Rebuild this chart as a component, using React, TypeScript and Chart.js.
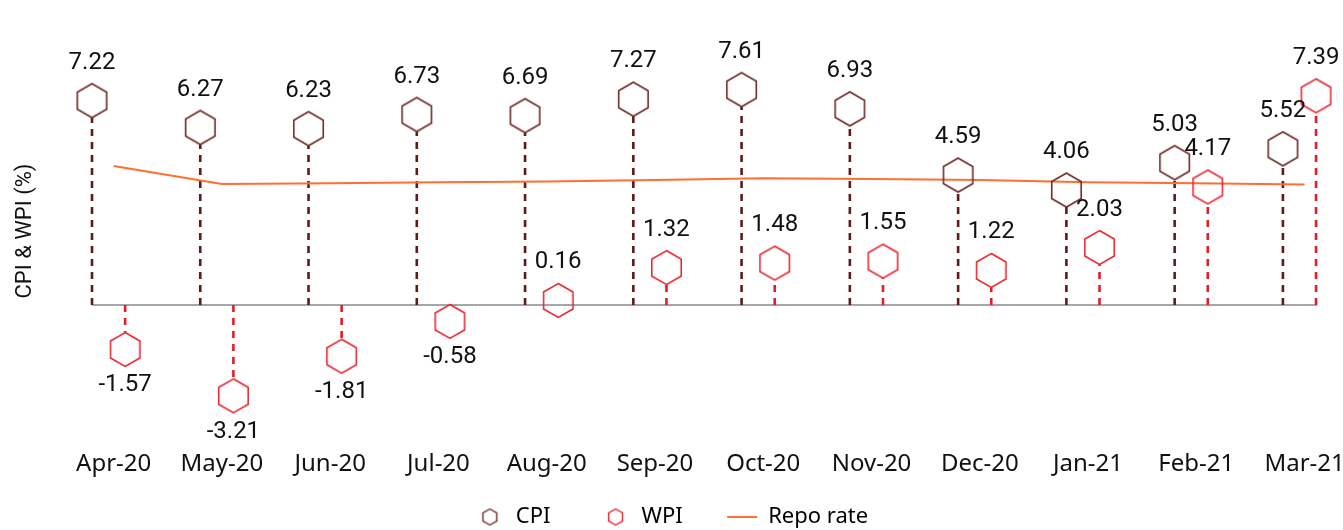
import React, { useEffect, useRef } from "react";
import { Chart, registerables } from "chart.js";

Chart.register(...registerables);

// ---- data ----
const MONTHS = ["Apr-20", "May-20", "Jun-20", "Jul-20", "Aug-20", "Sep-20", "Oct-20", "Nov-20", "Dec-20", "Jan-21", "Feb-21", "Mar-21"];
const CPI = [7.22, 6.27, 6.23, 6.73, 6.69, 7.27, 7.61, 6.93, 4.59, 4.06, 5.03, 5.52];
const WPI = [-1.57, -3.21, -1.81, -0.58, 0.16, 1.32, 1.48, 1.55, 1.22, 2.03, 4.17, 7.39];
const REPO = [4.91, 4.28, 4.3, 4.34, 4.36, 4.42, 4.48, 4.45, 4.42, 4.34, 4.3, 4.26];
const LEGEND_LABELS = ["CPI", "WPI", "Repo rate"];

// ---- styles ----
const CPI_COLOR = "#6e2a25";
const CPI_STEM = "#5e1b1b";
const WPI_COLOR = "#e8202a";
const WPI_STEM = "#e41e27";
const REPO_COLOR = "#ff6f30";
const AXIS_COLOR = "#a6a6a6";
const CPI_SHIFT = -0.2;
const WPI_SHIFT = 0.106;
const X_RIGHT_PAD = 0.249;
const HEX_R = 17;
const STEM_DASH = [7, 6];

function makeHex(r: number, color: string, lw: number): HTMLCanvasElement {
  const c = document.createElement("canvas");
  const w = Math.ceil(Math.sqrt(3) * r + lw * 2 + 2);
  const h = Math.ceil(2 * r + lw * 2 + 2);
  c.width = w;
  c.height = h;
  const g = c.getContext("2d")!;
  g.strokeStyle = color;
  g.lineWidth = lw;
  g.beginPath();
  for (let k = 0; k < 6; k++) {
    const a = -Math.PI / 2 + (k * Math.PI) / 3;
    const px = w / 2 + r * Math.cos(a);
    const py = h / 2 + r * Math.sin(a);
    if (k === 0) g.moveTo(px, py);
    else g.lineTo(px, py);
  }
  g.closePath();
  g.stroke();
  return c;
}

const stemPlugin = {
  id: "stems",
  beforeDatasetsDraw(chart: any) {
    const { ctx, chartArea } = chart;
    const y = chart.scales.y;
    const x = chart.scales.x;
    const y0 = y.getPixelForValue(0);
    // zero baseline, from the first to the last lollipop
    ctx.save();
    ctx.strokeStyle = AXIS_COLOR;
    ctx.lineWidth = 2;
    ctx.beginPath();
    ctx.moveTo(chartArea.left, y0);
    ctx.lineTo(x.getPixelForValue(MONTHS.length - 1 + WPI_SHIFT) + 1, y0);
    ctx.stroke();
    ctx.restore();
    chart.data.datasets.forEach((ds: any, di: number) => {
      if (!ds.stemColor) return;
      const meta = chart.getDatasetMeta(di);
      meta.data.forEach((el: any, i: number) => {
        const v = ds.data[i].y;
        const end = v >= 0 ? el.y + HEX_R : el.y - HEX_R;
        if ((v >= 0 && end >= y0) || (v < 0 && end <= y0)) return;
        ctx.save();
        ctx.beginPath();
        ctx.setLineDash(STEM_DASH);
        ctx.lineWidth = 2.6;
        ctx.strokeStyle = ds.stemColor;
        ctx.moveTo(el.x, y0);
        ctx.lineTo(el.x, end);
        ctx.stroke();
        ctx.restore();
      });
    });
  },
};

const valueLabelPlugin = {
  id: "valueLabels",
  afterDatasetsDraw(chart: any) {
    const { ctx } = chart;
    chart.data.datasets.forEach((ds: any, di: number) => {
      if (!ds.showValues) return;
      const meta = chart.getDatasetMeta(di);
      meta.data.forEach((el: any, i: number) => {
        const v = ds.data[i].y;
        ctx.save();
        ctx.font = "24px Roboto";
        ctx.fillStyle = "#111111";
        ctx.textAlign = "center";
        ctx.textBaseline = "middle";
        ctx.fillText(v.toFixed(2), el.x, v >= 0 ? el.y - 38 : el.y + 36);
        ctx.restore();
      });
    });
  },
};

export default function App() {
  const ref = useRef<HTMLCanvasElement | null>(null);

  useEffect(() => {
    if (!ref.current) return;
    const hexCPI = makeHex(HEX_R, CPI_COLOR, 1.6);
    const hexWPI = makeHex(HEX_R, WPI_COLOR, 1.5);
    const hexCPIs = makeHex(8, CPI_COLOR, 1.4);
    const hexWPIs = makeHex(8, WPI_COLOR, 1.4);
    const gapA = "\u00a0".repeat(7);
    const gapB = "\u00a0".repeat(6);

    const chart = new Chart(ref.current, {
      type: "line",
      data: {
        datasets: [
          {
            label: LEGEND_LABELS[0],
            data: CPI.map((v, i) => ({ x: i + CPI_SHIFT, y: v })),
            showLine: false,
            pointStyle: hexCPI as any,
            pointRadius: HEX_R,
            borderColor: CPI_COLOR,
            backgroundColor: "transparent",
            clip: false,
            stemColor: CPI_STEM,
            showValues: true,
          } as any,
          {
            label: LEGEND_LABELS[1],
            data: WPI.map((v, i) => ({ x: i + WPI_SHIFT, y: v })),
            showLine: false,
            pointStyle: hexWPI as any,
            pointRadius: HEX_R,
            borderColor: WPI_COLOR,
            backgroundColor: "transparent",
            clip: false,
            stemColor: WPI_STEM,
            showValues: true,
          } as any,
          {
            label: LEGEND_LABELS[2],
            data: REPO.map((v, i) => ({ x: i, y: v })),
            borderColor: REPO_COLOR,
            borderWidth: 2,
            pointRadius: 0,
            tension: 0,
            fill: false,
            clip: false,
          },
        ],
      },
      options: {
        responsive: false,
        animation: false,
        layout: { autoPadding: false, padding: { left: 0, right: 0, top: 20, bottom: 0 } },
        scales: {
          x: {
            type: "linear",
            min: CPI_SHIFT,
            max: MONTHS.length - 1 + WPI_SHIFT + X_RIGHT_PAD,
            afterBuildTicks: (scale: any) => {
              scale.ticks = MONTHS.map((_, i) => ({ value: i }));
            },
            afterFit: (scale: any) => {
              scale.height = 54;
              scale.paddingLeft = 0;
              scale.paddingRight = 0;
            },
            ticks: {
              autoSkip: false,
              maxRotation: 0,
              padding: 0,
              color: "#111111",
              font: { family: "Noto Sans", size: 24 },
              callback: (v: any) => MONTHS[Math.round(Number(v))],
            },
            grid: { display: false },
            border: { display: false },
          },
          y: {
            min: -4.84,
            max: 10.07,
            afterFit: (scale: any) => {
              scale.width = 92;
            },
            ticks: { display: false },
            grid: { display: false },
            border: { display: false },
            title: {
              display: true,
              text: "CPI & WPI (%)",
              color: "#111111",
              font: { family: "Roboto", size: 22 },
              padding: { top: 12, bottom: 0 },
            },
          },
        },
        plugins: {
          tooltip: { enabled: false },
          legend: {
            position: "bottom",
            maxHeight: 34,
            labels: {
              usePointStyle: true,
              pointStyleWidth: 30,
              padding: 10,
              color: "#111111",
              font: { family: "Noto Sans", size: 22 },
              generateLabels: () => [
                { text: LEGEND_LABELS[0] + gapA, pointStyle: hexCPIs as any, fillStyle: "transparent", strokeStyle: CPI_COLOR, lineWidth: 1, datasetIndex: 0, hidden: false },
                { text: LEGEND_LABELS[1] + gapB, pointStyle: hexWPIs as any, fillStyle: "transparent", strokeStyle: WPI_COLOR, lineWidth: 1, datasetIndex: 1, hidden: false },
                { text: LEGEND_LABELS[2], pointStyle: "line", fillStyle: REPO_COLOR, strokeStyle: REPO_COLOR, lineWidth: 2, datasetIndex: 2, hidden: false },
              ],
            },
          } as any,
        },
      },
      plugins: [stemPlugin, valueLabelPlugin],
    });
    return () => chart.destroy();
  }, []);

  return (
    <div style={{ position: "absolute", left: 0, top: 0, width: 1343, height: 530 }}>
      <canvas ref={ref} width={1343} height={530} />
    </div>
  );
}
